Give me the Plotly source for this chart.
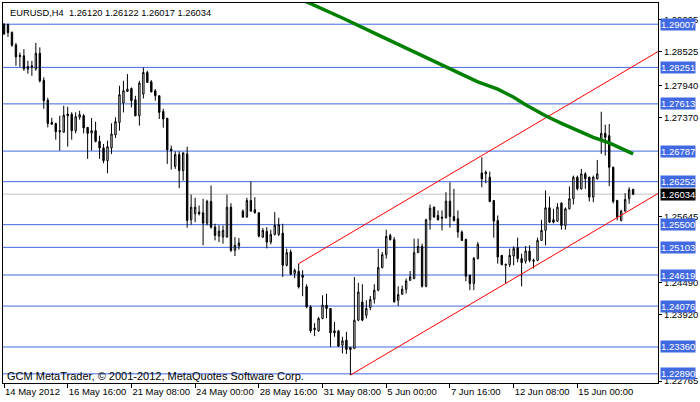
import plotly.graph_objects as go

# ---------------- data ----------------
tick_idx = [0, 16, 32, 48, 64, 80, 96, 112, 128, 144]
tick_text = ["14 May 2012", "16 May 16:00", "21 May 08:00", "24 May 00:00",
             "28 May 16:00", "31 May 08:00", "5 Jun 00:00", "7 Jun 16:00",
             "12 Jun 08:00", "15 Jun 00:00"]

opens = [1.29003, 1.29003, 1.28863, 1.28645, 1.28462, 1.28453, 1.28221, 1.28279, 1.28226, 1.28497,
         1.28026, 1.27677, 1.27289, 1.27267, 1.27145, 1.27118, 1.27436, 1.27432, 1.27145, 1.27380,
         1.27406, 1.27202, 1.27101, 1.27145, 1.26958, 1.26843, 1.26621, 1.26843, 1.27069, 1.27289,
         1.27628, 1.27830, 1.27883, 1.27685, 1.27406, 1.27785, 1.28162, 1.27999, 1.27843, 1.27755,
         1.27481, 1.27359, 1.26822, 1.26522, 1.26726, 1.26447, 1.26738, 1.25586, 1.25691, 1.25719,
         1.25708, 1.25527, 1.25906, 1.25457, 1.25300, 1.25283, 1.25283, 1.25806, 1.25051, 1.25126,
         1.25736, 1.25632, 1.25923, 1.25761, 1.25708, 1.25283, 1.25382, 1.25195, 1.25330, 1.25330,
         1.25352, 1.24789, 1.25021, 1.24644, 1.24684, 1.24614, 1.24414, 1.24061, 1.23689, 1.23642,
         1.23859, 1.24091, 1.24033, 1.23642, 1.23642, 1.23393, 1.23480, 1.23349, 1.23335, 1.23829,
         1.24148, 1.23916, 1.24051, 1.24195, 1.24353, 1.24749, 1.24975, 1.25312, 1.25237, 1.24178,
         1.24283, 1.24370, 1.24527, 1.24557, 1.25010, 1.25120, 1.24422, 1.25586, 1.25806, 1.25661,
         1.25632, 1.25621, 1.25911, 1.25644, 1.25604, 1.25370, 1.25242, 1.24614, 1.24469, 1.24906,
         1.26406, 1.26389, 1.26330, 1.25923, 1.25574, 1.24963, 1.24789, 1.24801, 1.24951, 1.25098,
         1.24906, 1.24859, 1.25038, 1.24859, 1.24876, 1.25225, 1.25400, 1.25796, 1.25586, 1.25562,
         1.25876, 1.25487, 1.25778, 1.25953, 1.26330, 1.26127, 1.26389, 1.26330, 1.25981, 1.26302,
         1.27000, 1.27097, 1.27057, 1.26504, 1.25923, 1.25574, 1.25736, 1.25953, 1.26120]
highs = [1.29029, 1.29017, 1.28881, 1.28680, 1.28511, 1.28570, 1.28366, 1.28366, 1.28680, 1.28602,
         1.28078, 1.27720, 1.27371, 1.27284, 1.27406, 1.27581, 1.27563, 1.27467, 1.27464, 1.27494,
         1.27436, 1.27206, 1.27366, 1.27302, 1.27057, 1.26912, 1.26970, 1.27272, 1.27377, 1.27930,
         1.28017, 1.28134, 1.27900, 1.27755, 1.28017, 1.28249, 1.28192, 1.28029, 1.27872, 1.27760,
         1.27528, 1.27371, 1.26883, 1.26783, 1.26783, 1.26766, 1.26865, 1.26028, 1.25970, 1.25836,
         1.25953, 1.25935, 1.26185, 1.25516, 1.25487, 1.25487, 1.26028, 1.25876, 1.25283, 1.25265,
         1.25766, 1.25970, 1.26255, 1.25981, 1.25714, 1.25440, 1.25457, 1.25412, 1.25719, 1.25621,
         1.25516, 1.25080, 1.25063, 1.24731, 1.24818, 1.24702, 1.24457, 1.24091, 1.23777, 1.23887,
         1.24265, 1.24291, 1.24038, 1.23799, 1.23655, 1.23538, 1.23625, 1.23363, 1.24585, 1.24483,
         1.24457, 1.24178, 1.24253, 1.24457, 1.25080, 1.25021, 1.25412, 1.25342, 1.25283, 1.24422,
         1.24435, 1.24557, 1.24689, 1.25255, 1.25255, 1.25167, 1.25604, 1.25853, 1.25818, 1.25749,
         1.25749, 1.26068, 1.26242, 1.26127, 1.25749, 1.25400, 1.25255, 1.24623, 1.24934, 1.25195,
         1.26679, 1.26447, 1.26429, 1.25932, 1.25661, 1.24965, 1.24815, 1.25080, 1.25120, 1.25272,
         1.24993, 1.25126, 1.25138, 1.24906, 1.25272, 1.25586, 1.26098, 1.25993, 1.25778, 1.25876,
         1.25893, 1.25801, 1.26167, 1.26359, 1.26359, 1.26476, 1.26417, 1.26342, 1.26359, 1.26633,
         1.27476, 1.27249, 1.27261, 1.26516, 1.25935, 1.25761, 1.26050, 1.26155, 1.26122]
lows = [1.28820, 1.28785, 1.28610, 1.28279, 1.28261, 1.28192, 1.28139, 1.28104, 1.28192, 1.27987,
        1.27528, 1.27202, 1.27249, 1.26987, 1.26796, 1.27110, 1.26865, 1.26987, 1.27097, 1.27336,
        1.27097, 1.26651, 1.26796, 1.26940, 1.26651, 1.26574, 1.26399, 1.26738, 1.27017, 1.27145,
        1.27464, 1.27825, 1.27551, 1.27394, 1.27232, 1.27708, 1.27982, 1.27813, 1.27668, 1.27349,
        1.27197, 1.26563, 1.26464, 1.26476, 1.26138, 1.26272, 1.25447, 1.25499, 1.25544, 1.25661,
        1.25138, 1.25487, 1.25429, 1.25225, 1.25195, 1.25167, 1.25277, 1.25021, 1.24951, 1.25063,
        1.25618, 1.25626, 1.25731, 1.25696, 1.25277, 1.25269, 1.25085, 1.25155, 1.25312, 1.25300,
        1.24585, 1.24771, 1.24614, 1.24562, 1.24383, 1.24248, 1.24038, 1.23607, 1.23550, 1.23625,
        1.23846, 1.23864, 1.23363, 1.23538, 1.23363, 1.23248, 1.23236, 1.22869, 1.23323, 1.23812,
        1.23812, 1.23859, 1.24004, 1.24120, 1.24335, 1.24736, 1.24906, 1.25225, 1.24143, 1.24079,
        1.24274, 1.24295, 1.24518, 1.24544, 1.25007, 1.24400, 1.24405, 1.25412, 1.25626, 1.25574,
        1.25400, 1.25609, 1.25447, 1.25557, 1.25272, 1.25216, 1.24510, 1.24353, 1.24353, 1.24893,
        1.26155, 1.26225, 1.25893, 1.25272, 1.24818, 1.24789, 1.24469, 1.24759, 1.24789, 1.24841,
        1.24422, 1.24818, 1.24841, 1.24731, 1.24859, 1.25216, 1.25138, 1.25527, 1.25522, 1.25548,
        1.25412, 1.25412, 1.25766, 1.25853, 1.26098, 1.26115, 1.26127, 1.25906, 1.25893, 1.26290,
        1.26738, 1.26708, 1.26173, 1.25871, 1.25574, 1.25557, 1.25731, 1.25865, 1.26017]
closes = [1.28837, 1.28860, 1.28640, 1.28436, 1.28445, 1.28226, 1.28267, 1.28261, 1.28497, 1.28017,
          1.27668, 1.27272, 1.27258, 1.27127, 1.27127, 1.27415, 1.27406, 1.27145, 1.27389, 1.27424,
          1.27192, 1.27097, 1.27145, 1.26958, 1.26843, 1.26621, 1.26865, 1.27087, 1.27302, 1.27773,
          1.27843, 1.27872, 1.27668, 1.27406, 1.27977, 1.28162, 1.27987, 1.27825, 1.27755, 1.27464,
          1.27349, 1.26808, 1.26796, 1.26726, 1.26447, 1.26755, 1.25574, 1.25806, 1.25806, 1.25691,
          1.25527, 1.25906, 1.25457, 1.25312, 1.25387, 1.25400, 1.25806, 1.25051, 1.25138, 1.25178,
          1.25632, 1.25923, 1.25736, 1.25708, 1.25300, 1.25400, 1.25195, 1.25330, 1.25487, 1.25499,
          1.24789, 1.25010, 1.24632, 1.24702, 1.24410, 1.24579, 1.24061, 1.23642, 1.23663, 1.23859,
          1.24091, 1.24033, 1.23607, 1.23607, 1.23375, 1.23468, 1.23318, 1.23314, 1.23829, 1.24323,
          1.23829, 1.24033, 1.24190, 1.24353, 1.24749, 1.24975, 1.25295, 1.25237, 1.24148, 1.24277,
          1.24370, 1.24515, 1.24585, 1.25010, 1.25120, 1.24422, 1.25586, 1.25789, 1.25632, 1.25586,
          1.25614, 1.25911, 1.25644, 1.25574, 1.25370, 1.25225, 1.24597, 1.24469, 1.24911, 1.25155,
          1.26302, 1.26417, 1.25906, 1.25562, 1.24934, 1.24801, 1.24806, 1.24963, 1.25080, 1.24906,
          1.24836, 1.25038, 1.24876, 1.24876, 1.25225, 1.25400, 1.25796, 1.25544, 1.25544, 1.25806,
          1.25487, 1.25778, 1.25953, 1.26330, 1.26127, 1.26389, 1.26302, 1.25981, 1.26330, 1.26389,
          1.27097, 1.27028, 1.26504, 1.25906, 1.25632, 1.25736, 1.25940, 1.26110, 1.26034]

# horizontal price levels (blue) and current bid (grey)
levels = [1.29007, 1.28251, 1.27613, 1.26787, 1.26252, 1.25500,
          1.25103, 1.24619, 1.24076, 1.23360, 1.22890]
bid = 1.26034

# right price-scale ticks
price_ticks = [1.29095, 1.28525, 1.27940, 1.27370, 1.25645, 1.24490, 1.23920, 1.22765]

# moving-average line (green)
ma_idx = [75, 85, 95, 105, 112, 119, 124, 128, 131, 136, 140, 144, 148, 152, 156, 158]
ma_val = [1.29430, 1.29116, 1.28785, 1.28453, 1.28226, 1.27999, 1.27872, 1.27729,
          1.27598, 1.27406, 1.27272, 1.27145, 1.27028, 1.26930, 1.26808, 1.26738]

# trend channel anchor points (red rays)
upper_idx = [74, 150]
upper_val = [1.24818, 1.27942]
lower_idx = [87, 150]
lower_val = [1.22869, 1.25459]

title_text = "EURUSD,H4\u00a0 1.26120 1.26122 1.26017 1.26034"
footer_text = "GCM MetaTrader, © 2001-2012, MetaQuotes Software Corp."

# ---------------- figure ----------------
X_MIN, X_MAX = -0.25, 164.25
Y_MIN, Y_MAX = 1.22730, 1.29378
FONT = "Liberation Sans, Arial, sans-serif"

idx = list(range(len(opens)))
fig = go.Figure()


def ray(xs, ys, x_end):
    slope = (ys[1] - ys[0]) / (xs[1] - xs[0])
    return [xs[0], x_end], [ys[0], ys[0] + slope * (x_end - xs[0])]


for xs, ys in ((upper_idx, upper_val), (lower_idx, lower_val)):
    rx, ry = ray(xs, ys, X_MAX + 2)
    fig.add_trace(go.Scatter(x=rx, y=ry, mode="lines",
                             line=dict(color="#ff0000", width=1),
                             hoverinfo="skip", showlegend=False))

fig.add_trace(go.Scatter(x=ma_idx, y=ma_val, mode="lines",
                         line=dict(color="#008000", width=3.5),
                         hoverinfo="skip", showlegend=False))

fig.add_trace(go.Candlestick(
    x=idx, open=opens, high=highs, low=lows, close=closes,
    increasing=dict(line=dict(color="black", width=1), fillcolor="white"),
    decreasing=dict(line=dict(color="black", width=1), fillcolor="black"),
    whiskerwidth=0, showlegend=False, hoverinfo="skip"))

shapes = []
for lv in levels:
    shapes.append(dict(type="line", xref="paper", x0=0, x1=1, yref="y", y0=lv, y1=lv,
                       line=dict(color="#4169E1", width=1), layer="below"))
shapes.append(dict(type="line", xref="paper", x0=0, x1=1, yref="y", y0=bid, y1=bid,
                   line=dict(color="#C0C0C0", width=1), layer="below"))

annotations = []
for lv in levels:
    annotations.append(dict(xref="paper", x=1, xanchor="left", xshift=2,
                            yref="y", y=lv, yanchor="middle",
                            text=f"{lv:.5f}", showarrow=False,
                            font=dict(family=FONT, size=9.5, color="white"),
                            bgcolor="#4169E1", borderpad=0))
annotations.append(dict(xref="paper", x=1, xanchor="left", xshift=2,
                        yref="y", y=bid, yanchor="middle",
                        text=f"{bid:.5f}", showarrow=False,
                        font=dict(family=FONT, size=9.5, color="white"),
                        bgcolor="black", borderpad=0))
annotations.append(dict(xref="paper", x=0, xanchor="left", xshift=5,
                        yref="paper", y=1, yanchor="top", yshift=-3,
                        text=title_text, showarrow=False,
                        font=dict(family=FONT, size=9.3, color="black")))
annotations.append(dict(xref="paper", x=0, xanchor="left", xshift=2,
                        yref="paper", y=0, yanchor="bottom", yshift=-1,
                        text=footer_text, showarrow=False,
                        font=dict(family=FONT, size=11, color="black")))

fig.update_layout(
    width=700, height=402,
    margin=dict(l=2, r=40, t=2, b=19),
    paper_bgcolor="white", plot_bgcolor="white",
    boxgap=0.5,
    showlegend=False,
    font=dict(family=FONT, size=9.5, color="black"),
    shapes=shapes, annotations=annotations,
    xaxis=dict(range=[X_MIN, X_MAX], tickmode="array", tickvals=tick_idx, ticktext=tick_text,
               ticks="outside", ticklen=4, tickcolor="black", tickangle=0,
               ticklabelposition="outside right",
               showline=True, linecolor="black", linewidth=1, mirror=True,
               showgrid=False, zeroline=False,
               rangeslider=dict(visible=False), fixedrange=True,
               tickfont=dict(family=FONT, size=9.5, color="black")),
    yaxis=dict(range=[Y_MIN, Y_MAX], side="right", tickmode="array",
               tickvals=price_ticks, ticktext=[f"{v:.5f}" for v in price_ticks],
               ticks="outside", ticklen=3, tickcolor="black",
               showline=True, linecolor="black", linewidth=1, mirror=True,
               showgrid=False, zeroline=False, fixedrange=True,
               tickfont=dict(family=FONT, size=9.5, color="black")),
)

fig.write_html("out.html", config={"displayModeBar": False},
               post_script="document.body.style.margin='0';document.body.style.overflow='hidden';")
